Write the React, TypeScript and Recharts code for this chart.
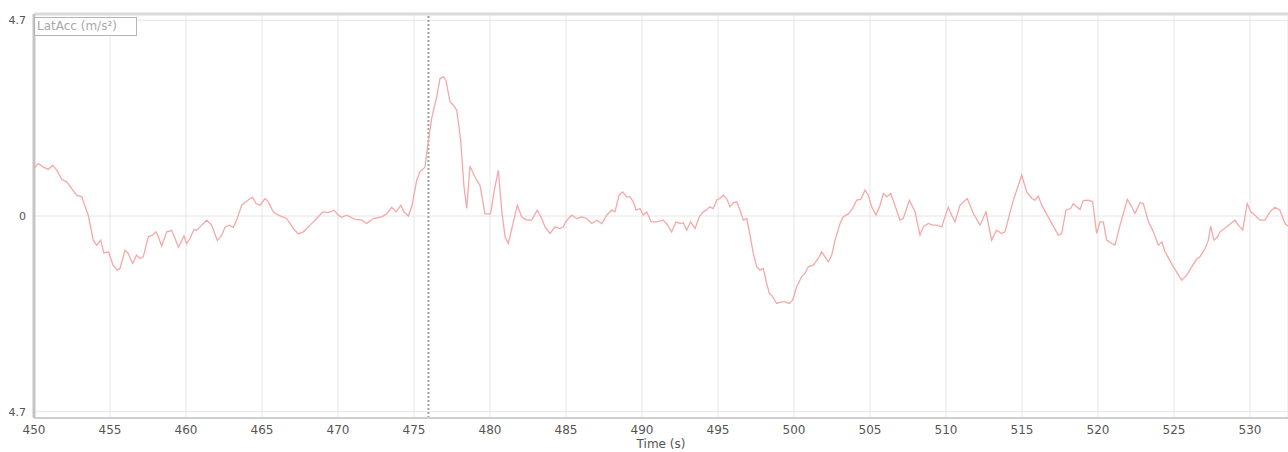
import React from "react";
import { LineChart, Line, XAxis, YAxis, CartesianGrid, ReferenceLine } from "recharts";

const times = [
  450.0, 450.28, 450.6, 450.94, 451.23, 451.5, 451.82, 452.15, 452.8, 453.14,
  453.57, 453.9, 454.12, 454.39, 454.6, 454.9, 455.2, 455.48, 455.66, 455.99,
  456.2, 456.49, 456.75, 456.97, 457.19, 457.52, 457.8, 458.03, 458.18, 458.4,
  458.73, 459.06, 459.28, 459.5, 459.87, 460.04, 460.26, 460.53, 460.7, 461.03,
  461.36, 461.69, 462.06, 462.35, 462.57, 462.85, 463.11, 463.33, 463.66, 463.95,
  464.21, 464.39, 464.6, 464.87, 465.2, 465.41, 465.74, 466.07, 466.62, 467.06,
  467.39, 467.72, 468.16, 468.6, 469.0, 469.36, 469.74, 470.02, 470.24, 470.57,
  471.12, 471.56, 471.89, 472.32, 472.87, 473.2, 473.53, 473.82, 474.13, 474.34,
  474.63, 474.85, 475.18, 475.39, 475.72, 475.94, 476.16, 476.49, 476.71, 476.93,
  477.1, 477.37, 477.59, 477.81, 478.07, 478.29, 478.47, 478.68, 478.9, 479.13,
  479.34, 479.67, 480.04, 480.26, 480.55, 480.77, 480.99, 481.2, 481.49, 481.8,
  482.08, 482.41, 482.74, 483.11, 483.4, 483.62, 483.95, 484.28, 484.61, 484.82,
  485.05, 485.38, 485.7, 486.03, 486.36, 486.69, 487.02, 487.35, 487.68, 488.01,
  488.22, 488.5, 488.73, 488.99, 489.21, 489.43, 489.61, 489.87, 490.09, 490.31,
  490.6, 490.97, 491.4, 491.63, 491.95, 492.24, 492.54, 492.72, 492.94, 493.2,
  493.49, 493.77, 494.03, 494.21, 494.47, 494.69, 494.91, 495.13, 495.35, 495.57,
  495.79, 496.01, 496.23, 496.45, 496.67, 496.89, 497.11, 497.32, 497.55, 497.76,
  497.98, 498.2, 498.38, 498.53, 498.86, 499.19, 499.41, 499.69, 499.91, 500.18,
  500.5, 500.72, 500.94, 501.27, 501.6, 501.82, 502.04, 502.26, 502.48, 502.7,
  503.03, 503.24, 503.57, 503.86, 504.12, 504.39, 504.67, 504.89, 505.11, 505.39,
  505.66, 505.88, 506.1, 506.36, 506.64, 506.97, 507.19, 507.59, 507.96, 508.29,
  508.51, 508.84, 509.13, 509.39, 509.72, 509.93, 510.15, 510.37, 510.59, 510.92,
  511.4, 511.8, 512.24, 512.63, 513.0, 513.33, 513.66, 513.88, 514.43, 514.98,
  515.31, 515.64, 515.86, 516.07, 516.3, 516.84, 517.39, 517.61, 517.89, 518.2,
  518.38, 518.6, 518.82, 519.03, 519.36, 519.65, 519.91, 520.13, 520.35, 520.57,
  520.9, 521.12, 521.45, 521.93, 522.22, 522.43, 522.76, 522.98, 523.32, 523.64,
  523.97, 524.2, 524.41, 524.96, 525.3, 525.51, 525.84, 526.16, 526.49, 526.71,
  527.04, 527.26, 527.41, 527.63, 527.85, 528.03, 528.47, 529.01, 529.23, 529.52,
  529.82, 530.05, 530.33, 530.66, 530.99, 531.32, 531.64, 531.97, 532.3, 532.5,
];

const latAcc = [
  1.14, 1.26, 1.18, 1.12, 1.22, 1.1, 0.88, 0.82, 0.5, 0.46,
  0.02, -0.58, -0.7, -0.58, -0.89, -0.86, -1.18, -1.3, -1.26, -0.82,
  -0.9, -1.14, -0.94, -1.02, -0.98, -0.5, -0.46, -0.38, -0.5, -0.72,
  -0.38, -0.35, -0.54, -0.75, -0.48, -0.66, -0.54, -0.32, -0.35, -0.22,
  -0.1, -0.22, -0.59, -0.46, -0.27, -0.22, -0.27, -0.1, 0.26, 0.34,
  0.42, 0.45, 0.3, 0.26, 0.42, 0.34, 0.1, 0.02, -0.06, -0.3,
  -0.43, -0.38, -0.22, -0.06, 0.1, 0.08, 0.14, 0.02, -0.03, 0.02,
  -0.08, -0.1, -0.18, -0.06, -0.02, 0.05, 0.21, 0.1, 0.26, 0.1,
  0.0, 0.22, 0.86, 1.06, 1.17, 1.78, 2.34, 2.86, 3.3, 3.34,
  3.26, 2.74, 2.66, 2.54, 1.82, 0.7, 0.18, 1.2, 1.02, 0.86,
  0.74, 0.05, 0.05, 0.58, 1.1, 0.14, -0.5, -0.66, -0.22, 0.26,
  -0.02, -0.1, -0.1, 0.14, -0.06, -0.26, -0.42, -0.26, -0.3, -0.26,
  -0.1, 0.02, -0.06, -0.02, -0.06, -0.18, -0.1, -0.18, 0.02, 0.14,
  0.1, 0.5, 0.58, 0.46, 0.46, 0.34, 0.14, 0.18, 0.02, 0.1,
  -0.14, -0.14, -0.1, -0.19, -0.38, -0.14, -0.18, -0.16, -0.34, -0.14,
  -0.3, -0.02, 0.1, 0.14, 0.22, 0.18, 0.38, 0.42, 0.5, 0.42,
  0.22, 0.32, 0.34, 0.14, -0.1, -0.06, -0.46, -0.9, -1.22, -1.3,
  -1.26, -1.62, -1.86, -1.9, -2.1, -2.06, -2.06, -2.1, -2.02, -1.7,
  -1.46, -1.38, -1.22, -1.18, -1.02, -0.86, -0.98, -1.1, -0.94, -0.58,
  -0.18, -0.02, 0.05, 0.18, 0.38, 0.4, 0.62, 0.5, 0.22, 0.02,
  0.26, 0.54, 0.46, 0.54, 0.26, -0.1, -0.06, 0.38, 0.1, -0.46,
  -0.26, -0.18, -0.22, -0.22, -0.26, -0.02, 0.21, 0.02, -0.14, 0.26,
  0.42, 0.06, -0.22, 0.1, -0.58, -0.34, -0.42, -0.38, 0.38, 0.98,
  0.58, 0.42, 0.38, 0.48, 0.26, -0.1, -0.46, -0.42, 0.14, 0.18,
  0.3, 0.22, 0.16, 0.37, 0.38, 0.34, -0.42, -0.14, -0.14, -0.58,
  -0.66, -0.7, -0.22, 0.4, 0.22, 0.06, 0.32, 0.3, -0.14, -0.38,
  -0.7, -0.62, -0.86, -1.22, -1.42, -1.54, -1.42, -1.22, -1.04, -0.98,
  -0.78, -0.58, -0.24, -0.58, -0.51, -0.38, -0.26, -0.1, -0.22, -0.34,
  0.3, 0.1, 0.02, -0.1, -0.1, 0.1, 0.21, 0.14, -0.18, -0.24,
];

const xTicks = [450, 455, 460, 465, 470, 475, 480, 485, 490, 495, 500, 505, 510, 515, 520, 525, 530];
const yTicks = [-4.7, 0, 4.7];
const xDomain = [450, 532.5];
const yDomain = [-4.85, 4.85];
const cursorTime = 475.95;
const seriesName = "LatAcc (m/s²)";
const xTitle = "Time (s)";

const data = times.map((t, i) => ({ t, v: latAcc[i] }));

const fmtY = (v: number) => (v === 0 ? "0" : Math.abs(v).toFixed(1));

export default function App() {
  return (
    <div style={{ position: "absolute", left: 0, top: 0, width: 1288, height: 452, fontFamily: "DejaVu Sans, sans-serif" }}>
      <LineChart width={1288} height={452} data={data} margin={{ top: 14, right: 0, bottom: 0, left: 0 }}>
        <CartesianGrid stroke="#e6e6e6" strokeWidth={1} />
        <XAxis
          dataKey="t"
          type="number"
          domain={xDomain}
          ticks={xTicks}
          allowDataOverflow
          height={34}
          tickLine={false}
          tickSize={0}
          tickMargin={7}
          axisLine={{ stroke: "#cfcfcf", strokeWidth: 2 }}
          tick={{ fontSize: 12, fill: "#555", fontFamily: "DejaVu Sans" }}
          label={{ value: xTitle, position: "insideBottom", offset: 4, fontSize: 12, fill: "#555", fontFamily: "DejaVu Sans" }}
        />
        <YAxis
          type="number"
          domain={yDomain}
          ticks={yTicks}
          allowDataOverflow
          width={34}
          tickLine={false}
          tickSize={0}
          tickMargin={8}
          tickFormatter={fmtY}
          axisLine={{ stroke: "#c4c4c4", strokeWidth: 3 }}
          tick={{ fontSize: 11, fill: "#555", fontFamily: "DejaVu Sans" }}
        />
        <ReferenceLine y={yDomain[1]} stroke="#dadada" strokeWidth={3} />
        <ReferenceLine x={cursorTime} stroke="#a0a0a0" strokeWidth={2} strokeDasharray="2 2" />
        <Line
          type="linear"
          dataKey="v"
          stroke="#f5a8a8"
          strokeWidth={1.3}
          dot={false}
          activeDot={false}
          isAnimationActive={false}
        />
      </LineChart>
      <div
        style={{
          position: "absolute",
          left: 34,
          top: 17,
          width: 99,
          height: 17,
          border: "1px solid #b5b5b5",
          fontSize: 12,
          lineHeight: "17px",
          color: "#a8a8a8",
          paddingLeft: 2,
          boxSizing: "content-box",
          whiteSpace: "nowrap",
          overflow: "hidden",
          background: "rgba(255,255,255,0.8)",
        }}
      >
        {seriesName}
      </div>
    </div>
  );
}
